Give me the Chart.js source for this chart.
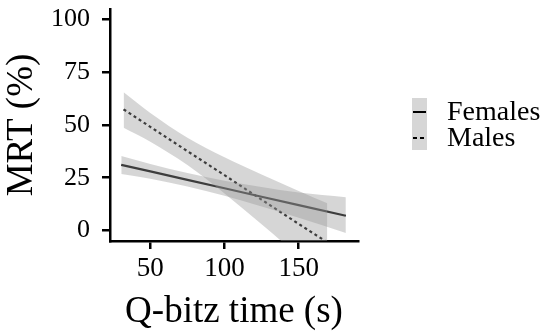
<!DOCTYPE html>
<html>
<head>
<meta charset="utf-8">
<script src="https://cdn.jsdelivr.net/npm/chart.js@4.4.1/dist/chart.umd.min.js"></script>
<style>
  html, body { margin: 0; padding: 0; background: #fff; }
  #wrap { position: relative; width: 550px; height: 332px; }
</style>
</head>
<body>
<div id="wrap"><canvas id="c" width="550" height="332"></canvas></div>
<script>
// ── data ──
var femX     = [30.4, 50, 75, 100, 125, 150, 181.8];
var femFit   = [31.1, 28.0, 24.0, 20.0, 16.0, 12.0, 6.95];
var femUpper = [35.3, 31.5, 27.2, 23.6, 20.6, 18.0, 15.8];
var femLower = [26.8, 24.5, 20.8, 16.4, 11.4, 6.0, -1.2];

var maleX     = [32, 50, 75, 100, 125, 150, 169.3];
var maleFit   = [57.4, 49.1, 37.6, 26.2, 14.6, 3.1, -5.6];
var maleUpper = [65.5, 55.7, 44.0, 34.7, 26.5, 18.7, 12.9];
var maleLower = [48.7, 42.1, 31.0, 17.5, 2.9, -12.1, -23.9];

var xTicks = [50, 100, 150];
var yTicks = [0, 25, 50, 75, 100];
var legendNames = ['Females', 'Males'];

var SERIF = '"Liberation Serif", "DejaVu Serif", serif';
var BAND  = 'rgba(153,153,153,0.4)';

function pts(xs, ys) {
  return xs.map(function(x, i) { return { x: x, y: ys[i] }; });
}

function bandEdge(xs, ys, fill) {
  return {
    data: pts(xs, ys), borderWidth: 0, pointRadius: 0,
    backgroundColor: BAND, fill: fill, cubicInterpolationMode: 'monotone'
  };
}

// legend drawn on the canvas, right of the panel
var legendPlugin = {
  id: 'sideLegend',
  afterDraw: function(chart) {
    var ctx = chart.ctx;
    var kx = 412, kw = 15, ky = 98, kh = 26;
    ctx.save();
    legendNames.forEach(function(name, i) {
      var top = ky + i * kh;
      ctx.fillStyle = BAND;
      ctx.fillRect(kx, top, kw, kh);
      ctx.strokeStyle = '#000';
      ctx.lineWidth = 2;
      ctx.setLineDash(i === 0 ? [] : [4, 3]);
      ctx.beginPath();
      ctx.moveTo(kx + 1, top + 14);
      ctx.lineTo(kx + kw - 1, top + 14);
      ctx.stroke();
      ctx.setLineDash([]);
      ctx.fillStyle = '#000';
      ctx.font = '28px ' + SERIF;
      ctx.textAlign = 'left';
      ctx.textBaseline = 'middle';
      ctx.fillText(name, 447, top + 15);
    });
    ctx.restore();
  }
};

new Chart(document.getElementById('c').getContext('2d'), {
  type: 'line',
  data: {
    datasets: [
      bandEdge(maleX, maleUpper, false),
      bandEdge(maleX, maleLower, '-1'),
      bandEdge(femX, femUpper, false),
      bandEdge(femX, femLower, '-1'),
      { data: pts(femX, femFit), borderColor: '#000', borderWidth: 2.2,
        pointRadius: 0, fill: false },
      { data: pts(maleX, maleFit), borderColor: '#000', borderWidth: 2.2,
        borderDash: [3, 3], pointRadius: 0, fill: false }
    ]
  },
  options: {
    responsive: false, animation: false,
    layout: { padding: { top: 9, right: 192, left: 0, bottom: 0 } },
    plugins: { legend: { display: false }, tooltip: { enabled: false } },
    scales: {
      x: {
        type: 'linear', min: 22.8, max: 190,
        afterFit: function(s) { s.height = 91; s.paddingLeft = 0; s.paddingRight = 0; },
        afterBuildTicks: function(s) { s.ticks = xTicks.map(function(v) { return { value: v }; }); },
        grid: { display: true, drawOnChartArea: false, color: '#000', lineWidth: 2.5, tickLength: 8 },
        border: { display: true, color: '#000', width: 2.5 },
        ticks: { color: '#000', padding: 4, maxRotation: 0, font: { family: SERIF, size: 27 } },
        title: { display: true, text: 'Q-bitz time (s)', color: '#000',
                 font: { family: SERIF, size: 37 }, padding: { top: 0, bottom: -2 } }
      },
      y: {
        type: 'linear', min: -5, max: 105,
        afterFit: function(s) { s.width = 110; s.paddingTop = 0; s.paddingBottom = 0; },
        afterBuildTicks: function(s) { s.ticks = yTicks.map(function(v) { return { value: v }; }); },
        grid: { display: true, drawOnChartArea: false, color: '#000', lineWidth: 2.5, tickLength: 8 },
        border: { display: true, color: '#000', width: 2.5 },
        ticks: { color: '#000', padding: 12, font: { family: SERIF, size: 26 } },
        title: { display: true, text: 'MRT (%)', color: '#000',
                 font: { family: SERIF, size: 37 }, padding: { top: 0, bottom: 0 } }
      }
    }
  },
  plugins: [legendPlugin]
});
</script>
</body>
</html>
